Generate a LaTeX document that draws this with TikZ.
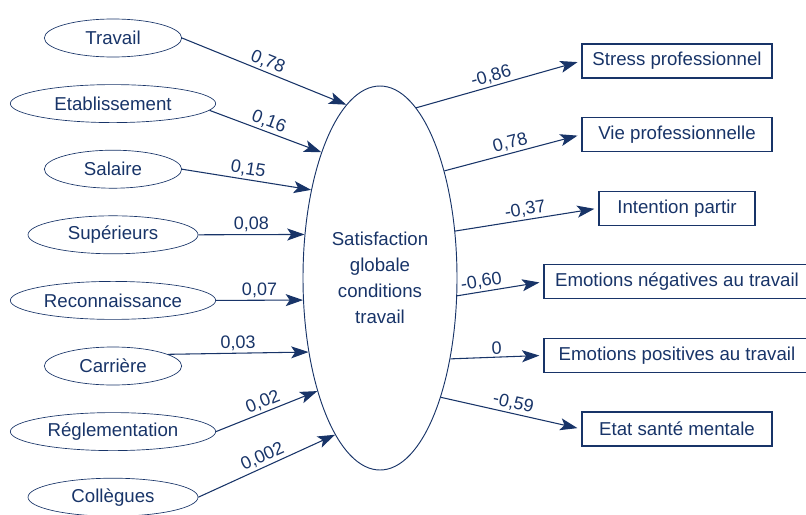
\documentclass[tikz,border=0pt]{standalone}
\usepackage{fontspec}
\setmainfont{Liberation Sans}
\usetikzlibrary{positioning,arrows.meta,shapes.geometric}
\definecolor{navy}{RGB}{24,52,104}
\tikzset{
	cause/.style={ellipse, draw=navy, line width=0.5pt, minimum height=28.5pt, inner sep=1pt, text=navy, font=\fontsize{14}{17}\selectfont},
	effect/.style={rectangle, draw=navy, line width=0.9pt, minimum height=25.5pt, inner xsep=5pt, text=navy, font=\fontsize{14}{17}\selectfont},
	path/.style={-{Stealth[length=13pt,width=9pt,inset=3pt]}, draw=navy, line width=0.8pt},
	coef/.style={sloped, above, inner sep=1.5pt, text=navy, font=\fontsize{13.5}{16}\selectfont},
}
\begin{document}
\begin{tikzpicture}[x=0.75pt, y=-0.75pt, node distance=20.2pt]
			\useasboundingbox (0,0) rectangle (806,514);

			\node[cause, minimum width=115.5pt, minimum height=288pt, line width=0.7pt, align=center, font=\fontsize{14}{19.5}\selectfont](sat) at (380,278){Satisfaction\\globale\\conditions\\travail};

			\node[cause, minimum width=103pt](trav) at (113,38){Travail};
			\node[cause, minimum width=154pt, below=of trav](etab){Etablissement};
			\node[cause, minimum width=103pt, below=of etab](sal){Salaire};
			\node[cause, minimum width=127.5pt, below=of sal](sup){Supérieurs};
			\node[cause, minimum width=154pt, below=of sup](reco){Reconnaissance};
			\node[cause, minimum width=103pt, below=of reco](carr){Carrière};
			\node[cause, minimum width=154pt, below=of carr](regl){Réglementation};
			\node[cause, minimum width=127.5pt, below=of regl](coll){Collègues};

			\node[effect, minimum width=142.5pt](stress) at (677,61){Stress professionnel};
			\node[effect, minimum width=142.5pt, below=28.8pt of stress](vie){Vie professionnelle};
			\node[effect, minimum width=117pt, below=28.8pt of vie](inten){Intention partir};
			\node[effect, minimum width=199.5pt, below=28.8pt of inten](emoneg){Emotions négatives au travail};
			\node[effect, minimum width=199.5pt, below=28.8pt of emoneg](emopos){Emotions positives au travail};
			\node[effect, minimum width=142.5pt, below=28.8pt of emopos](sante){Etat santé mentale};

			\draw[path] (trav.east) -- node[coef]{0,78} (sat.101.7);
			\draw[path] (etab.-4) -- node[coef]{0,16} (sat.115);
			\draw[path] (sal.east) -- node[coef]{0,15} (sat.128.4);
			\draw[path] (sup.east) -- node[coef]{0,08} (sat.150.6);
			\draw[path] (reco.east) -- node[coef]{0,07} (sat.196.7);
			\draw[path] (carr.12) -- node[coef]{0,03} (sat.226.8);
			\draw[path] (regl.east) -- node[coef]{0,02} (sat.241.8);
			\draw[path] (coll.east) -- node[coef]{0,002} (sat.254.7);

			\draw[path, shorten >=3pt] (sat.78) -- node[coef, pos=.47]{-0,86} (stress.west);
			\draw[path, shorten >=3pt] (sat.59.4) -- node[coef]{0,78} (vie.west);
			\draw[path, shorten >=3pt] (sat.32.3) -- node[coef]{-0,37} (inten.west);
			\draw[path, shorten >=3pt] (sat.-13) -- node[coef, pos=.3]{-0,60} (emoneg.west);
			\draw[path, shorten >=3pt] (sat.-49.3) -- node[coef]{0} (emopos.west);
			\draw[path, shorten >=3pt] (sat.-63.6) -- node[coef]{-0,59} (sante.west);
		\end{tikzpicture}
\end{document}
